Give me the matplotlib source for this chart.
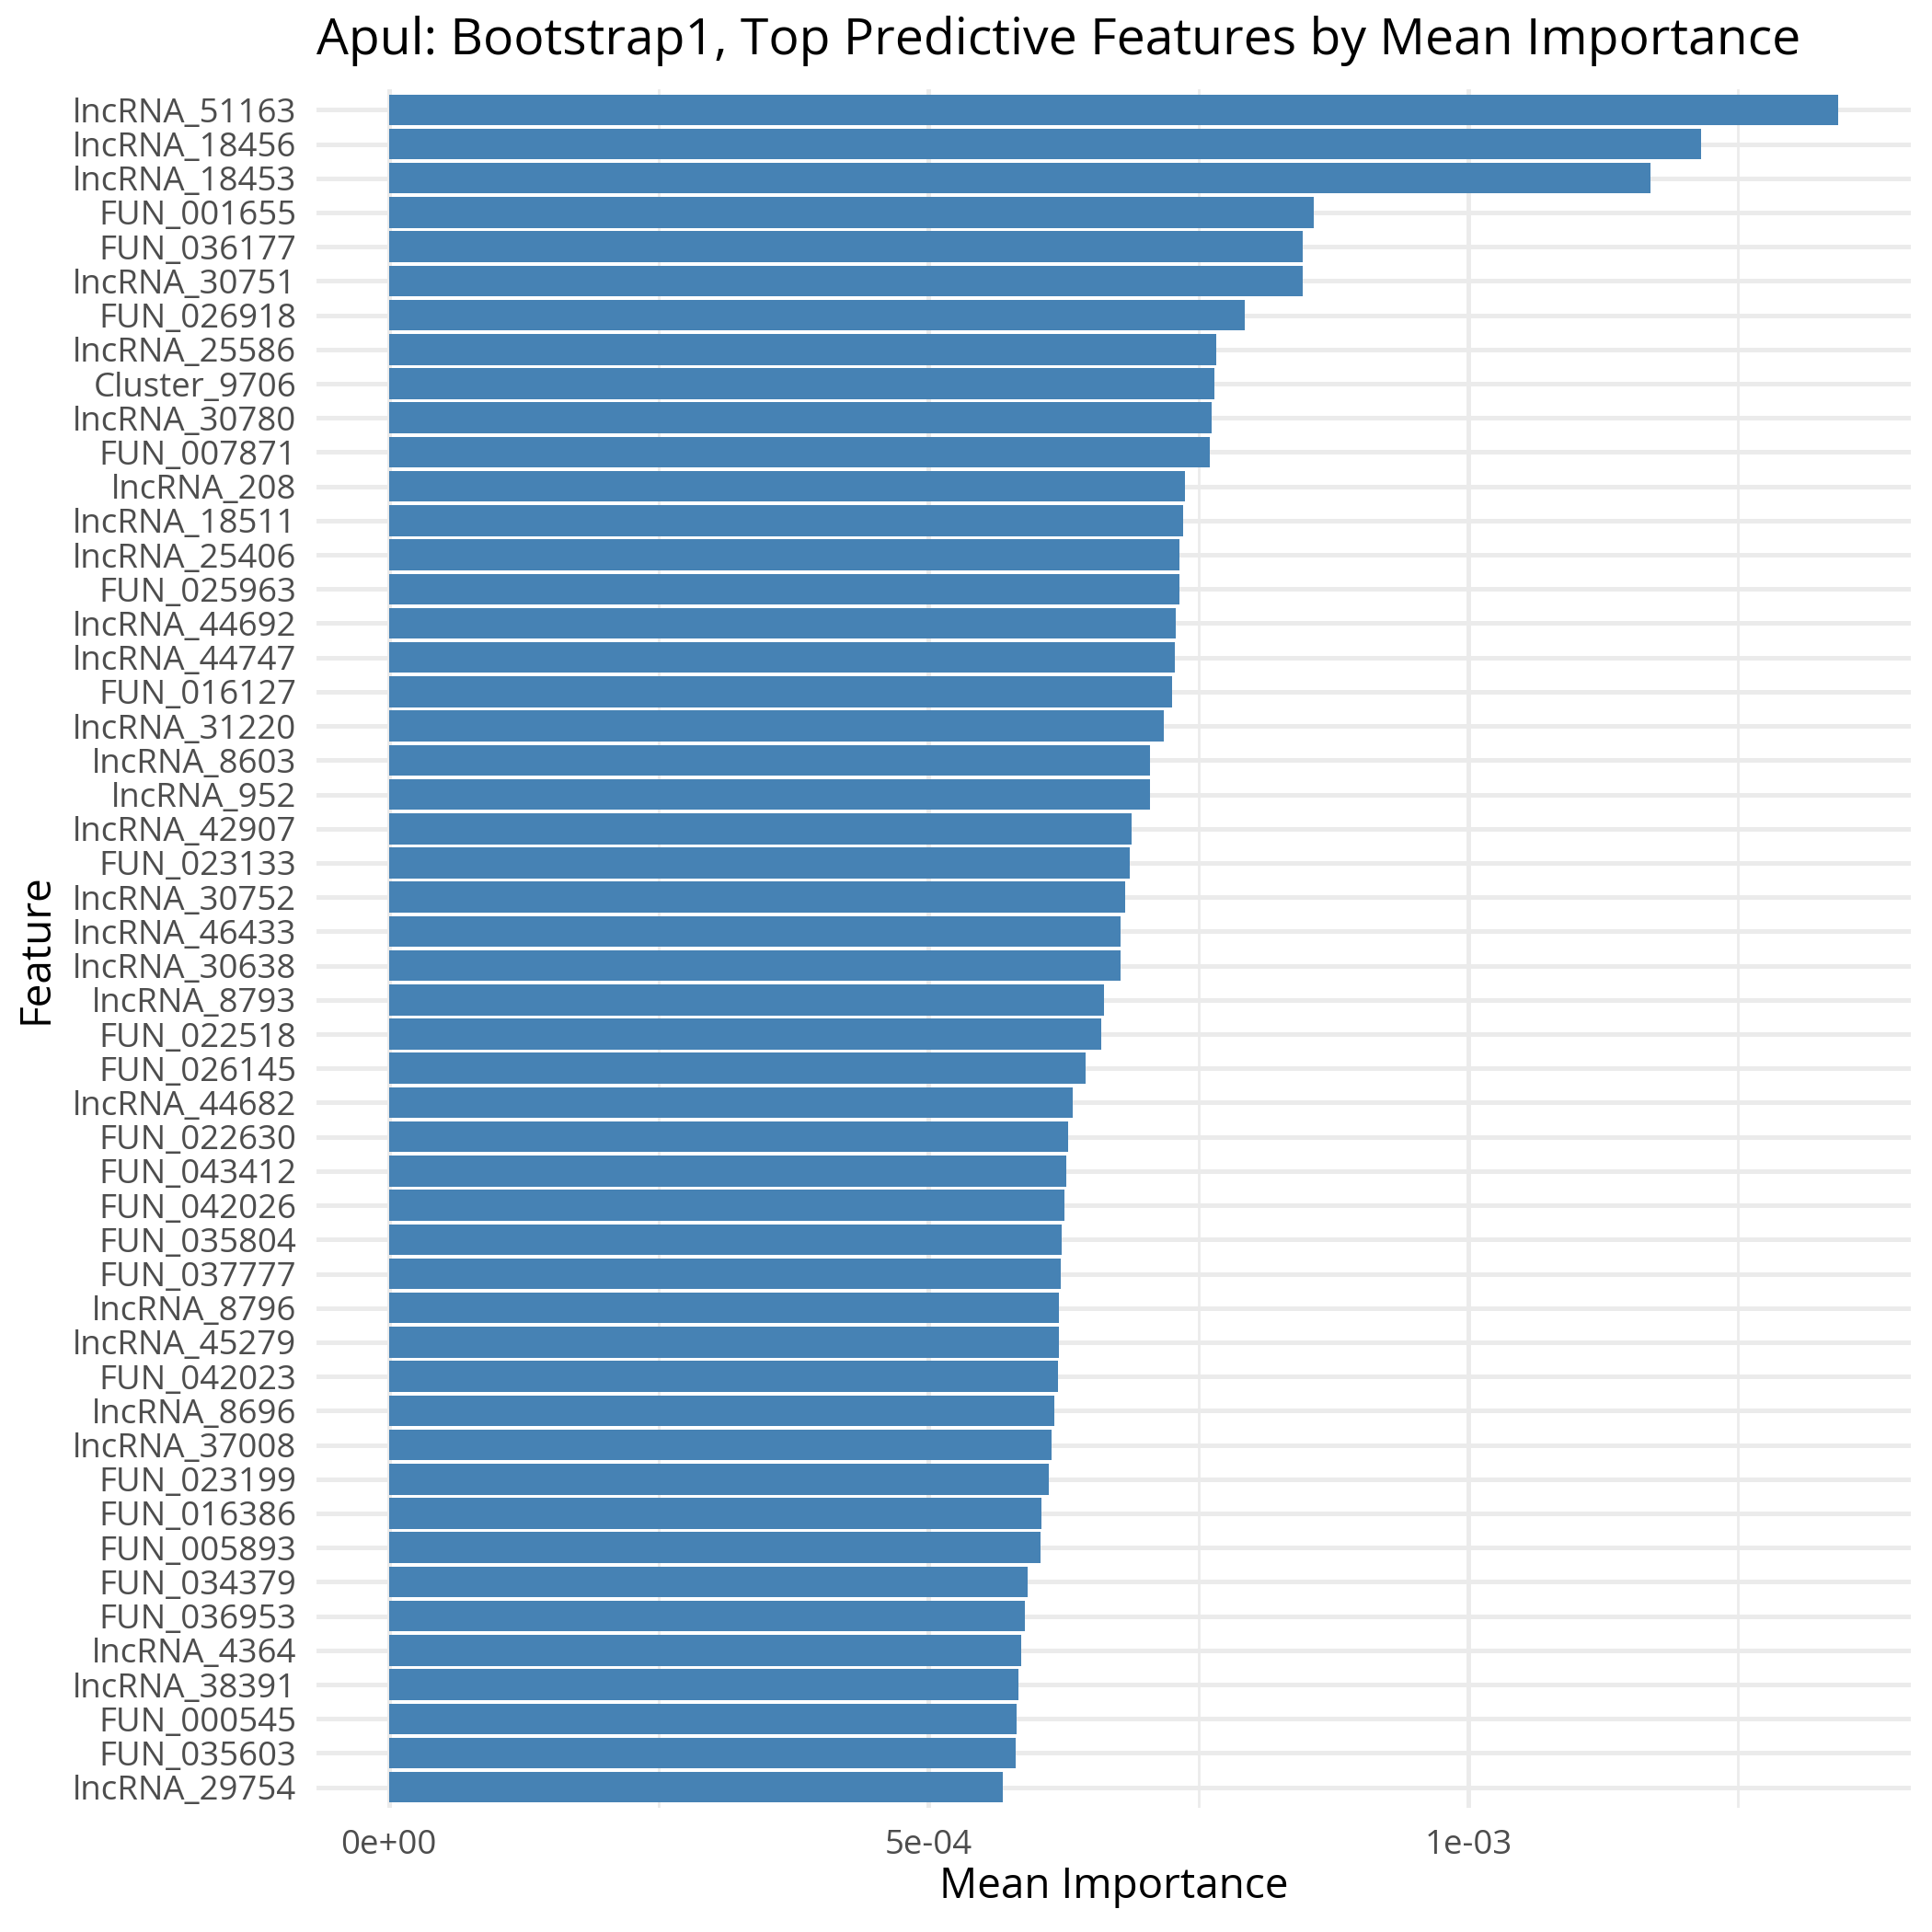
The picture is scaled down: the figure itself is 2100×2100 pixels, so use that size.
import matplotlib
matplotlib.use("Agg")
import matplotlib.pyplot as plt
from matplotlib.ticker import FixedLocator

plt.rcParams['font.family'] = ['Open Sans', 'DejaVu Sans']

features = [
    "lncRNA_51163", "lncRNA_18456", "lncRNA_18453", "FUN_001655", "FUN_036177",
    "lncRNA_30751", "FUN_026918", "lncRNA_25586", "Cluster_9706", "lncRNA_30780",
    "FUN_007871", "lncRNA_208", "lncRNA_18511", "lncRNA_25406", "FUN_025963",
    "lncRNA_44692", "lncRNA_44747", "FUN_016127", "lncRNA_31220", "lncRNA_8603",
    "lncRNA_952", "lncRNA_42907", "FUN_023133", "lncRNA_30752", "lncRNA_46433",
    "lncRNA_30638", "lncRNA_8793", "FUN_022518", "FUN_026145", "lncRNA_44682",
    "FUN_022630", "FUN_043412", "FUN_042026", "FUN_035804", "FUN_037777",
    "lncRNA_8796", "lncRNA_45279", "FUN_042023", "lncRNA_8696", "lncRNA_37008",
    "FUN_023199", "FUN_016386", "FUN_005893", "FUN_034379", "FUN_036953",
    "lncRNA_4364", "lncRNA_38391", "FUN_000545", "FUN_035603", "lncRNA_29754",
]
importance = [
    1.343e-3, 1.216e-3, 1.169e-3, 0.857e-3, 0.847e-3,
    0.847e-3, 0.793e-3, 0.7666e-3, 0.765e-3, 0.762e-3,
    0.761e-3, 0.7376e-3, 0.736e-3, 0.7325e-3, 0.7325e-3,
    0.729e-3, 0.728e-3, 0.7257e-3, 0.718e-3, 0.7053e-3,
    0.7053e-3, 0.6883e-3, 0.6866e-3, 0.6823e-3, 0.678e-3,
    0.678e-3, 0.6627e-3, 0.660e-3, 0.6456e-3, 0.6337e-3,
    0.6294e-3, 0.6277e-3, 0.626e-3, 0.6235e-3, 0.6226e-3,
    0.621e-3, 0.621e-3, 0.620e-3, 0.6167e-3, 0.614e-3,
    0.6117e-3, 0.6048e-3, 0.604e-3, 0.592e-3, 0.5895e-3,
    0.586e-3, 0.5835e-3, 0.5818e-3, 0.581e-3, 0.569e-3,
]
x_ticks = [0.0, 5e-4, 1e-3]
x_tick_labels = ["0e+00", "5e-04", "1e-03"]
x_minor = [2.5e-4, 7.5e-4, 1.25e-3]

title = "Apul: Bootstrap1, Top Predictive Features by Mean Importance"

fig = plt.figure(figsize=(7, 7), dpi=300)
L, R = 344 / 2100, 2077 / 2100
B, T = 1 - 1965 / 2100, 1 - 97 / 2100
ax = fig.add_axes([L, B, R - L, T - B])

n = len(features)
ypos = list(range(n))
ax.barh(ypos, importance, height=0.9, color="#4682B4", zorder=3)

xmax = max(importance)
ax.set_xlim(-0.05 * xmax, 1.05 * xmax)
ax.set_ylim(n - 1 + 0.6, -0.6)

ax.set_yticks(ypos)
ax.set_yticklabels(features)
ax.xaxis.set_major_locator(FixedLocator(x_ticks))
ax.set_xticklabels(x_tick_labels)
ax.xaxis.set_minor_locator(FixedLocator(x_minor))

ax.grid(True, which="major", axis="both", color="#EBEBEB", linewidth=1.2, zorder=0)
ax.grid(True, which="minor", axis="x", color="#EBEBEB", linewidth=0.65, zorder=0)
ax.set_axisbelow(True)
for s in ax.spines.values():
    s.set_visible(False)
ax.tick_params(axis="both", which="both", length=0, labelsize=8.8, labelcolor="#4D4D4D")
ax.tick_params(axis="y", pad=5.2)
ax.tick_params(axis="x", pad=5.5)

fig.text(L, 0.979, title, ha="left", va="center", fontsize=13.28, color="black")
fig.text(0.019, (B + T) / 2, "Feature", rotation=90, ha="center", va="center",
         fontsize=11, color="black")
fig.text((L + R) / 2, 0.0233, "Mean Importance", ha="center", va="center",
         fontsize=11, color="black")

fig.savefig("out.png", dpi=300, facecolor="white")
